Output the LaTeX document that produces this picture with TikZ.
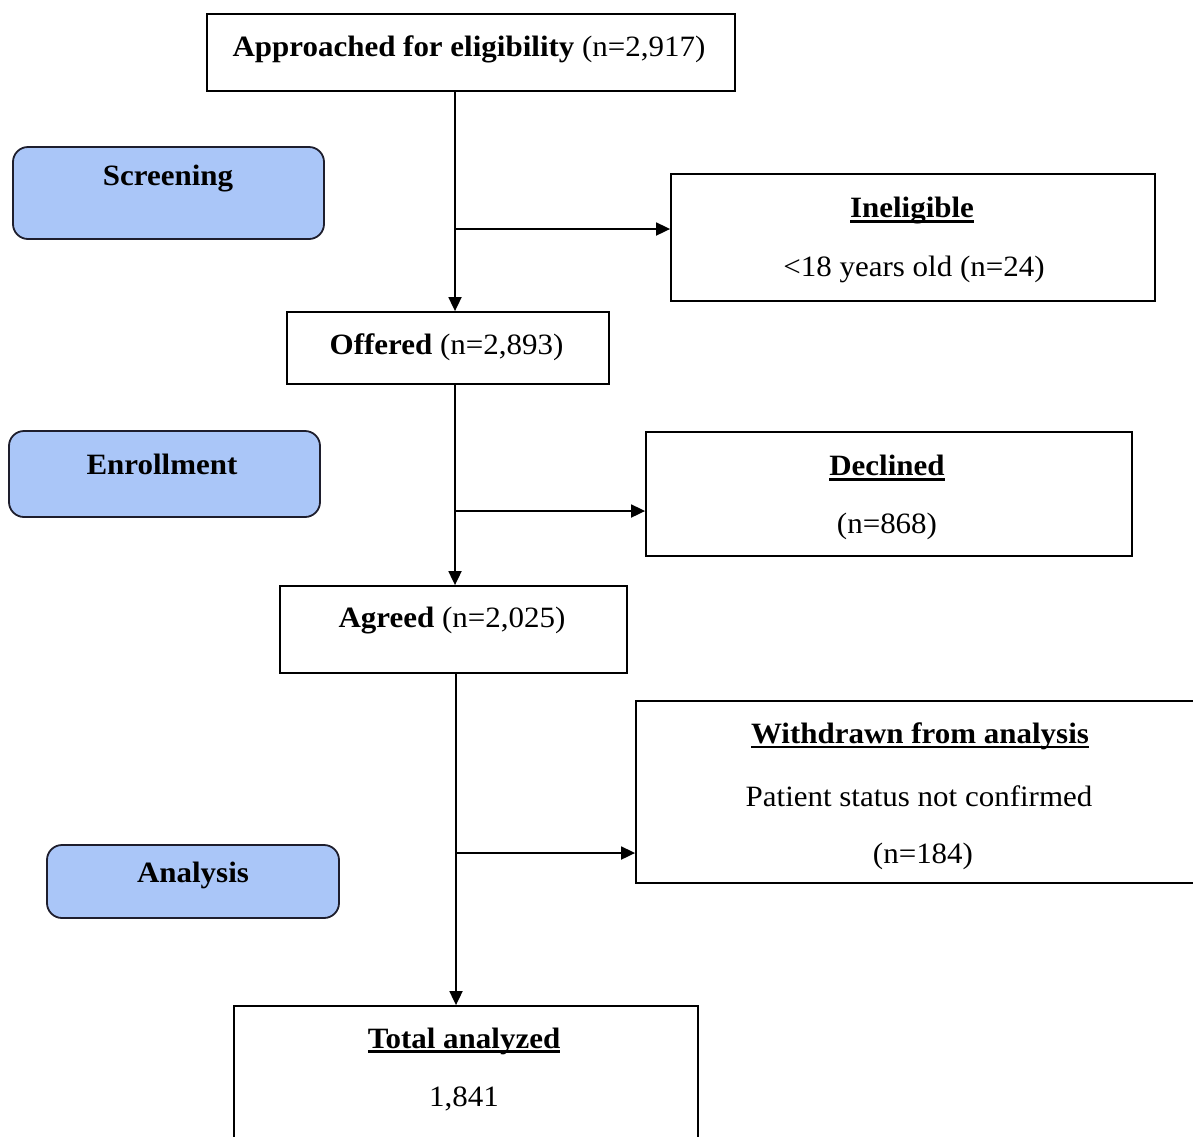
\documentclass[tikz,border=0pt]{standalone}
\usepackage{fontspec}
\setmainfont[FakeStretch=1.05]{Liberation Serif}
\usetikzlibrary{arrows.meta}
\definecolor{stageblue}{RGB}{170,198,248}
\definecolor{stageedge}{RGB}{30,30,45}
\newcommand{\ulbf}[1]{\setbox0\hbox{\bfseries #1}\rlap{\rule[-5pt]{\wd0}{2.6pt}}\box0}
\tikzset{
  box/.style={draw=black, line width=1.8pt, fill=white, inner sep=0pt},
  stagebox/.style={draw=stageedge, line width=1.8pt, fill=stageblue, rounded corners=15pt, inner sep=0pt},
  txt/.style={font=\fontsize{29.5}{34}\selectfont, inner sep=0pt},
  arr/.style={draw=black, line width=1.8pt, -{Triangle[length=14pt,width=13pt]}},
}
\begin{document}
\begin{tikzpicture}[x=1pt,y=-1pt]
\clip (0,0) rectangle (1193,1136);
\fill[white] (0,0) rectangle (1193,1136);
% main boxes
\node[box, minimum width=528pt, minimum height=77pt] (appr) at (471,52.5) {};
\node[box, minimum width=484pt, minimum height=127pt] (inel) at (913,237.5) {};
\node[box, minimum width=322pt, minimum height=72pt] (offer) at (448,348) {};
\node[box, minimum width=486pt, minimum height=124pt] (decl) at (889,494) {};
\node[box, minimum width=347pt, minimum height=87pt] (agree) at (453.5,629.5) {};
\node[box, minimum width=566pt, minimum height=182pt] (withd) at (919,792) {};
\node[box, minimum width=464pt, minimum height=150pt] (total) at (466,1081) {};
% stage boxes
\node[stagebox, minimum width=311pt, minimum height=92pt] (scr) at (168.5,193) {};
\node[stagebox, minimum width=311pt, minimum height=86pt] (enr) at (164.5,474) {};
\node[stagebox, minimum width=292pt, minimum height=73pt] (ana) at (193,881.5) {};
% texts
\node[txt] (tappr) at (469,49) {\bfseries Approached for eligibility \mdseries(n=2,917)};
\node[txt] (tscr) at (168,179) {\bfseries Screening};
\node[txt] (tinel1) at (912,211) {\ulbf{Ineligible}};
\node[txt] (tinel2) at (914,269) {<18 years old (n=24)};
\node[txt] (toffer) at (446.5,347) {\bfseries Offered \mdseries(n=2,893)};
\node[txt] (tenr) at (162,464) {\bfseries Enrollment};
\node[txt] (tdecl1) at (887,468) {\ulbf{Declined}};
\node[txt] (tdecl2) at (887,526) {(n=868)};
\node[txt] (tagree) at (452,621) {\bfseries Agreed \mdseries(n=2,025)};
\node[txt] (twd1) at (920,736) {\ulbf{Withdrawn from analysis}};
\node[txt] (twd2) at (919,796) {Patient status not confirmed};
\node[txt] (twd3) at (923,856) {(n=184)};
\node[txt] (tana) at (193,875) {\bfseries Analysis};
\node[txt] (ttot1) at (464,1041) {\ulbf{Total analyzed}};
\node[txt] (ttot2) at (464,1099) {1,841};
% connectors
\coordinate (b1) at (455,229);
\coordinate (b2) at (455,511);
\coordinate (b3) at (456,853);
\draw[arr] (b1 |- appr.south) -- (b1 |- offer.north);
\draw[arr] (b1) -- (b1 -| inel.west);
\draw[arr] (b2 |- offer.south) -- (b2 |- agree.north);
\draw[arr] (b2) -- (b2 -| decl.west);
\draw[arr] (b3 |- agree.south) -- (b3 |- total.north);
\draw[arr] (b3) -- (b3 -| withd.west);
\end{tikzpicture}
\end{document}
